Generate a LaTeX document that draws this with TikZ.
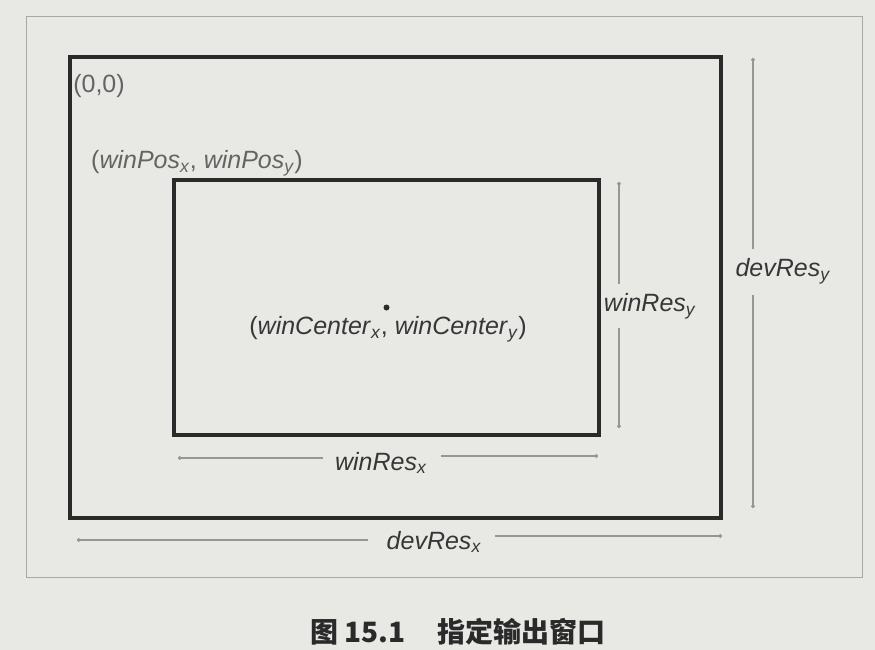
\documentclass[tikz,border=0pt]{standalone}
\usepackage{fontspec}
\setmainfont{Liberation Sans}
\newfontfamily\cjk{Noto Sans CJK SC}
\usetikzlibrary{arrows.meta}
\definecolor{paper}{RGB}{232,232,229}
\definecolor{ink}{RGB}{42,42,42}
\definecolor{dimgray}{RGB}{150,150,147}
\definecolor{framegray}{RGB}{168,168,165}
\definecolor{labelgray}{RGB}{100,100,100}
\definecolor{textink}{RGB}{55,55,55}
\newcommand{\sbx}[1]{\textsubscript{\textit{#1}}}
\begin{document}
\begin{tikzpicture}[x=1pt,y=-1pt,
  devbox/.style={draw=ink,line width=4.5pt,outer sep=0pt,inner sep=0pt},
  winbox/.style={draw=ink,line width=3.2pt,outer sep=0pt,inner sep=0pt},
  dimline/.style={draw=dimgray,line width=1.4pt,-{Circle[length=3.5pt]}},
  lbl/.style={font=\fontsize{25}{28}\selectfont,text=textink,inner sep=0pt},
  ptlbl/.style={font=\fontsize{25}{28}\selectfont,text=labelgray,inner sep=0pt},
  capt/.style={font=\cjk\bfseries\fontsize{28}{31}\selectfont,text=ink,inner sep=0pt}
]
\fill[paper] (0,0) rectangle (875,650);
\useasboundingbox (0,0) rectangle (875,650);
% outer frame of the figure
\draw[framegray,line width=1pt] (26,17) rectangle (862,577);
% device and window rectangles
\node[devbox,minimum width=651pt,minimum height=461pt] (dev) at (395.5,287.5) {};
\node[winbox,minimum width=425pt,minimum height=255pt] (win) at (386.5,307.5) {};
\fill[ink] (win.center) circle (3pt);
% point labels
\node[ptlbl] (origin) at (99,86) {(0,0)};
\node[ptlbl] (winpos) at (197,163) {(\textit{winPos}\sbx{x}, \textit{winPos}\sbx{y})};
\node[lbl] (center) at (388,329) {(\textit{winCenter}\sbx{x}, \textit{winCenter}\sbx{y})};
% dimension labels
\node[lbl] (wrx) at (381,463) {\textit{winRes}\sbx{x}};
\node[lbl] (drx) at (434,542) {\textit{devRes}\sbx{x}};
\node[lbl] (wry) at (650,306) {\textit{winRes}\sbx{y}};
\node[lbl] (dry) at (783,271) {\textit{devRes}\sbx{y}};
% dimension line ends
\coordinate (wrxL) at (178,458);
\coordinate (wrxLi) at (323,458);
\coordinate (wrxRi) at (441,456);
\coordinate (wrxR) at (598,456);
\coordinate (drxL) at (77,540);
\coordinate (drxLi) at (368,540);
\coordinate (drxRi) at (495,536);
\coordinate (drxR) at (722,536);
\coordinate (wryT) at (619,182);
\coordinate (wryTi) at (619,284);
\coordinate (wryBi) at (619,328);
\coordinate (wryB) at (619,428);
\coordinate (dryT) at (753,58);
\coordinate (dryTi) at (753,249);
\coordinate (dryBi) at (753,295);
\coordinate (dryB) at (753,508);
\draw[dimline] (wrxLi) -- (wrxL);
\draw[dimline] (wrxRi) -- (wrxR);
\draw[dimline] (drxLi) -- (drxL);
\draw[dimline] (drxRi) -- (drxR);
\draw[dimline] (wryTi) -- (wryT);
\draw[dimline] (wryBi) -- (wryB);
\draw[dimline] (dryTi) -- (dryT);
\draw[dimline] (dryBi) -- (dryB);
% caption
\node[capt,anchor=west] (caption) at (310,632) {图\hspace{6pt}15.1\hspace{32pt}指定输出窗口};
\end{tikzpicture}
\end{document}
